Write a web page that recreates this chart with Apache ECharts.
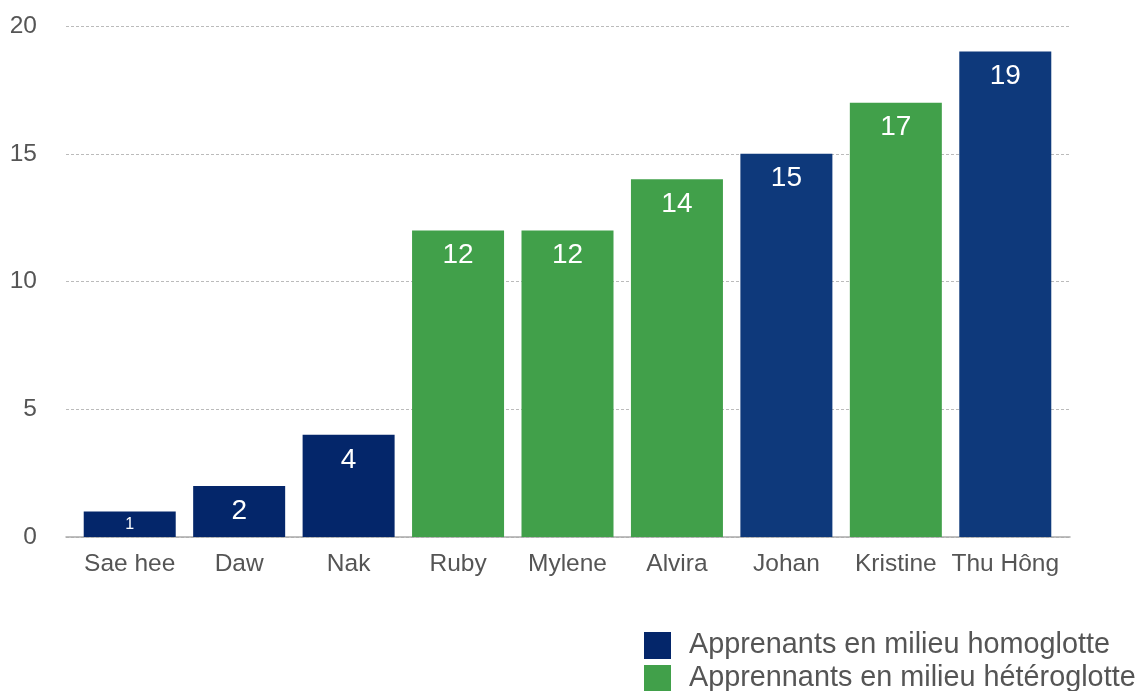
<!DOCTYPE html>
<html>
<head>
<meta charset="utf-8">
<script src="https://cdn.jsdelivr.net/npm/echarts@6/dist/echarts.min.js"></script>
<style>
  html, body { margin: 0; padding: 0; background: #fff; }
  #chart { width: 1136px; height: 691px; }
</style>
</head>
<body>
<div id="chart"></div>
<script>
// Learners, sorted by score
const categories = ['Sae hee', 'Daw', 'Nak', 'Ruby', 'Mylene', 'Alvira', 'Johan', 'Kristine', 'Thu Hông'];
// Group of each learner: 'homo' = homoglotte setting, 'hetero' = hétéroglotte setting
const groups = ['homo', 'homo', 'homo', 'hetero', 'hetero', 'hetero', 'homo', 'hetero', 'homo'];
const values = [1, 2, 4, 12, 12, 14, 15, 17, 19];
const yTicks = [0, 5, 10, 15, 20];

const seriesNames = {
  homo: 'Apprenants en milieu homoglotte',
  hetero: 'Apprennants en milieu hétéroglotte'
};
const colors = { homo: '#04266a', hetero: '#41a04a' };
// slightly lighter navy used on the later homoglotte bars
const homoLight = '#0e397b';
const FONT = 'Liberation Sans, Arial, sans-serif';

function seriesData(group) {
  return values.map((v, i) => {
    if (groups[i] !== group) return null;
    const item = { value: v };
    if (group === 'homo' && i >= 6) item.itemStyle = { color: homoLight };
    if (v < 2) item.label = { fontSize: 16, distance: 5 };
    return item;
  });
}

function makeSeries(group) {
  return {
    name: seriesNames[group],
    type: 'bar',
    stack: 'all',
    xAxisIndex: 1,
    yAxisIndex: 1,
    barWidth: 92,
    data: seriesData(group),
    itemStyle: { color: colors[group] },
    label: {
      show: true,
      position: 'insideTop',
      distance: 11,
      color: '#fff',
      fontSize: 28,
      fontFamily: FONT
    }
  };
}

// one legend row per group, stacked at the bottom right
function legendRow(name, top) {
  return {
    orient: 'vertical',
    left: 644,
    top: top,
    padding: 0,
    itemWidth: 27,
    itemHeight: 27,
    icon: 'rect',
    textStyle: { fontSize: 28.8, lineHeight: 27, color: '#555', padding: [0, 0, 0, 13] },
    data: [name]
  };
}

const yRange = { min: yTicks[0], max: yTicks[yTicks.length - 1], interval: 5 };

const chart = echarts.init(document.getElementById('chart'));
chart.setOption({
  animation: false,
  textStyle: { fontFamily: FONT },
  // grid 0: gridlines, baseline and value labels; grid 1: the bars
  grid: [
    { left: 66, right: 66, top: 26, bottom: 154 },
    { left: 75, right: 76, top: 26, bottom: 154 }
  ],
  legend: [legendRow(seriesNames.homo, 631), legendRow(seriesNames.hetero, 664)],
  xAxis: [
    {
      gridIndex: 0,
      type: 'value',
      min: 0,
      max: 1,
      axisLabel: { show: false },
      axisTick: { show: false },
      splitLine: { show: false },
      axisLine: { show: true, onZero: false, lineStyle: { color: '#aaa', width: 1.5 } }
    },
    {
      gridIndex: 1,
      type: 'category',
      data: categories,
      axisTick: { show: false },
      axisLine: { show: false },
      axisLabel: { fontSize: 24.5, color: '#555', margin: 15, interval: 0 }
    }
  ],
  yAxis: [
    Object.assign({
      gridIndex: 0,
      type: 'value',
      axisLine: { show: false },
      axisTick: { show: false },
      axisLabel: { fontSize: 24.5, color: '#555', margin: 29 },
      splitLine: { lineStyle: { color: '#bbb', type: [3, 2], width: 1 } }
    }, yRange),
    Object.assign({
      gridIndex: 1,
      type: 'value',
      show: false,
      splitLine: { show: false }
    }, yRange)
  ],
  series: [makeSeries('homo'), makeSeries('hetero')]
});
</script>
</body>
</html>
